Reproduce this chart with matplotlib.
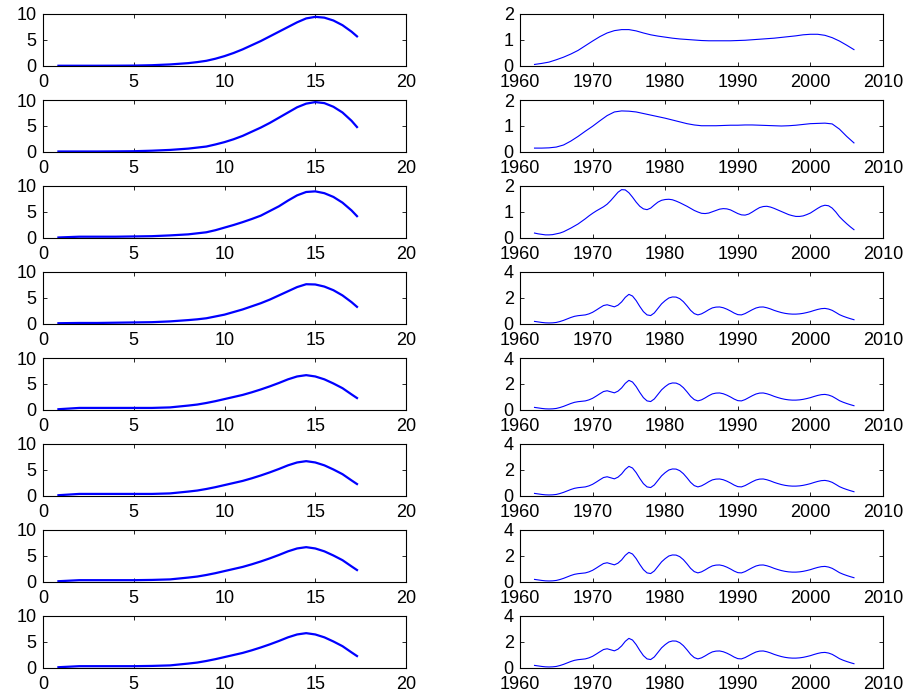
import numpy as np
import matplotlib
matplotlib.use("Agg")
import matplotlib.pyplot as plt

plt.rcParams['font.family'] = ['Liberation Sans', 'DejaVu Sans']

# lewa kolumna - wspolne x
x_left = [0.85, 2, 3, 4, 5, 6, 7, 8, 8.5, 9, 9.5, 10, 10.5, 11, 11.5, 12, 12.5, 13, 13.5,
          14, 14.5, 15, 15.5, 16, 16.5, 17, 17.3]

left_1 = [0.05, 0.05, 0.05, 0.06, 0.08, 0.15, 0.3, 0.55, 0.75, 1.0, 1.4, 1.9, 2.5, 3.2, 4.0,
          4.8, 5.7, 6.6, 7.5, 8.4, 9.15, 9.45, 9.3, 8.75, 7.85, 6.6, 5.7]
left_2 = [0.1, 0.1, 0.1, 0.12, 0.15, 0.25, 0.4, 0.65, 0.85, 1.05, 1.45, 1.9, 2.45, 3.1, 3.9,
          4.7, 5.6, 6.6, 7.6, 8.6, 9.3, 9.6, 9.4, 8.7, 7.6, 6.0, 4.8]
left_3 = [0.1, 0.25, 0.25, 0.25, 0.3, 0.35, 0.5, 0.7, 0.9, 1.1, 1.5, 2.0, 2.5, 3.05, 3.65,
          4.3, 5.2, 6.1, 7.2, 8.2, 8.85, 8.97, 8.62, 7.9, 6.8, 5.3, 4.2]
left_4 = [0.15, 0.2, 0.2, 0.25, 0.3, 0.35, 0.5, 0.75, 0.9, 1.1, 1.45, 1.8, 2.3, 2.8, 3.4,
          4.0, 4.7, 5.5, 6.3, 7.1, 7.65, 7.6, 7.2, 6.5, 5.5, 4.2, 3.3]
left_5 = [0.15, 0.4, 0.4, 0.4, 0.4, 0.4, 0.5, 0.85, 1.05, 1.35, 1.7, 2.1, 2.5, 2.9, 3.4,
          3.95, 4.55, 5.2, 5.9, 6.45, 6.7, 6.45, 5.9, 5.1, 4.2, 3.0, 2.3]
left_6 = left_5
left_7 = [0.15, 0.35, 0.35, 0.35, 0.35, 0.4, 0.5, 0.85, 1.05, 1.35, 1.7, 2.1, 2.5, 2.9, 3.4,
          3.95, 4.55, 5.2, 5.9, 6.45, 6.7, 6.45, 5.9, 5.1, 4.2, 3.0, 2.3]
left_8 = left_7

# prawa kolumna - lata
years = list(range(1962, 2007))
years_half = [1962 + 0.5 * k for k in range(89)]

right_1 = [0.06, 0.10, 0.15, 0.24, 0.34, 0.46, 0.60, 0.78, 0.96, 1.13, 1.27, 1.36, 1.40, 1.40, 1.35,
           1.27, 1.20, 1.15, 1.11, 1.07, 1.04, 1.02, 1.00, 0.98, 0.97, 0.97, 0.97, 0.97, 0.98, 0.99,
           1.01, 1.03, 1.05, 1.07, 1.10, 1.13, 1.16, 1.20, 1.22, 1.22, 1.18, 1.09, 0.96, 0.80, 0.63]
right_2 = [0.15, 0.15, 0.16, 0.19, 0.27, 0.42, 0.60, 0.80, 0.99, 1.20, 1.40, 1.54, 1.58, 1.57, 1.54,
           1.48, 1.42, 1.36, 1.30, 1.23, 1.16, 1.09, 1.04, 1.01, 1.01, 1.01, 1.02, 1.03, 1.03, 1.04,
           1.04, 1.03, 1.02, 1.01, 1.00, 1.01, 1.03, 1.06, 1.09, 1.10, 1.11, 1.08, 0.88, 0.60, 0.35]
# co pol roku
right_3 = [0.19, 0.16, 0.14, 0.12, 0.12, 0.13, 0.16, 0.19, 0.24, 0.31, 0.38, 0.46, 0.54, 0.64,
           0.74, 0.85, 0.95, 1.04, 1.12, 1.20, 1.30, 1.44, 1.60, 1.76, 1.86, 1.85, 1.74, 1.57,
           1.38, 1.22, 1.12, 1.09, 1.15, 1.27, 1.38, 1.45, 1.48, 1.49, 1.47, 1.42, 1.36, 1.29,
           1.22, 1.14, 1.06, 1.00, 0.95, 0.94, 0.96, 1.01, 1.06, 1.11, 1.13, 1.12, 1.08, 1.01,
           0.94, 0.89, 0.88, 0.92, 1.00, 1.09, 1.17, 1.21, 1.22, 1.19, 1.14, 1.08, 1.02, 0.96,
           0.90, 0.86, 0.83, 0.83, 0.85, 0.90, 0.96, 1.05, 1.14, 1.22, 1.26, 1.24, 1.15, 1.00,
           0.82, 0.68, 0.55, 0.43, 0.32]
right_4 = [0.20, 0.16, 0.12, 0.09, 0.08, 0.09, 0.12, 0.19, 0.28, 0.39, 0.50, 0.59, 0.64, 0.67,
           0.70, 0.78, 0.90, 1.07, 1.25, 1.42, 1.48, 1.40, 1.32, 1.45, 1.70, 2.05, 2.28, 2.15,
           1.80, 1.35, 0.95, 0.70, 0.65, 0.85, 1.20, 1.55, 1.80, 2.00, 2.08, 2.07, 1.95, 1.72,
           1.40, 1.05, 0.80, 0.70, 0.78, 0.93, 1.10, 1.24, 1.30, 1.31, 1.25, 1.14, 1.00, 0.84,
           0.72, 0.70, 0.80, 0.95, 1.10, 1.23, 1.30, 1.31, 1.25, 1.16, 1.05, 0.96, 0.88, 0.82,
           0.78, 0.76, 0.76, 0.78, 0.82, 0.88, 0.95, 1.04, 1.12, 1.18, 1.20, 1.15, 1.05, 0.89,
           0.72, 0.60, 0.50, 0.41, 0.33]
right_5 = right_4
right_6 = right_4
right_7 = right_4
right_8 = right_4

lewe = [left_1, left_2, left_3, left_4, left_5, left_6, left_7, left_8]
prawe = [right_1, right_2, right_3, right_4, right_5, right_6, right_7, right_8]
prawe_x = [years, years, years_half, years_half, years_half, years_half, years_half, years_half]
prawe_ymax = [2, 2, 2, 4, 4, 4, 4, 4]

W, H = 907, 694
fig = plt.figure(figsize=(W / 100, H / 100), dpi=100)


def styl(ax):
    ax.tick_params(direction='in', top=True, right=True, length=3, width=0.6,
                   labelsize=13)
    ax.tick_params(axis='x', pad=6)
    ax.tick_params(axis='y', pad=4.5)
    for s in ax.spines.values():
        s.set_linewidth(0.8)


for i in range(8):
    top = 14 + 86 * i
    bottom = 1 - (top + 52) / H

    ax = fig.add_axes([43 / W, bottom, 363 / W, 52 / H])
    ax.plot(x_left, lewe[i], color='blue', linewidth=1.6)
    ax.set_xlim(0, 20)
    ax.set_ylim(0, 10)
    ax.set_xticks([0, 5, 10, 15, 20])
    ax.set_yticks([0, 5, 10])
    styl(ax)

    ax2 = fig.add_axes([520 / W, bottom, 363 / W, 52 / H])
    ax2.plot(prawe_x[i], prawe[i], color='blue', linewidth=0.8)
    ax2.set_xlim(1960, 2010)
    ax2.set_ylim(0, prawe_ymax[i])
    ax2.set_xticks([1960, 1970, 1980, 1990, 2000, 2010])
    if prawe_ymax[i] == 2:
        ax2.set_yticks([0, 1, 2])
    else:
        ax2.set_yticks([0, 2, 4])
    styl(ax2)

plt.savefig('out.png', dpi=100)
